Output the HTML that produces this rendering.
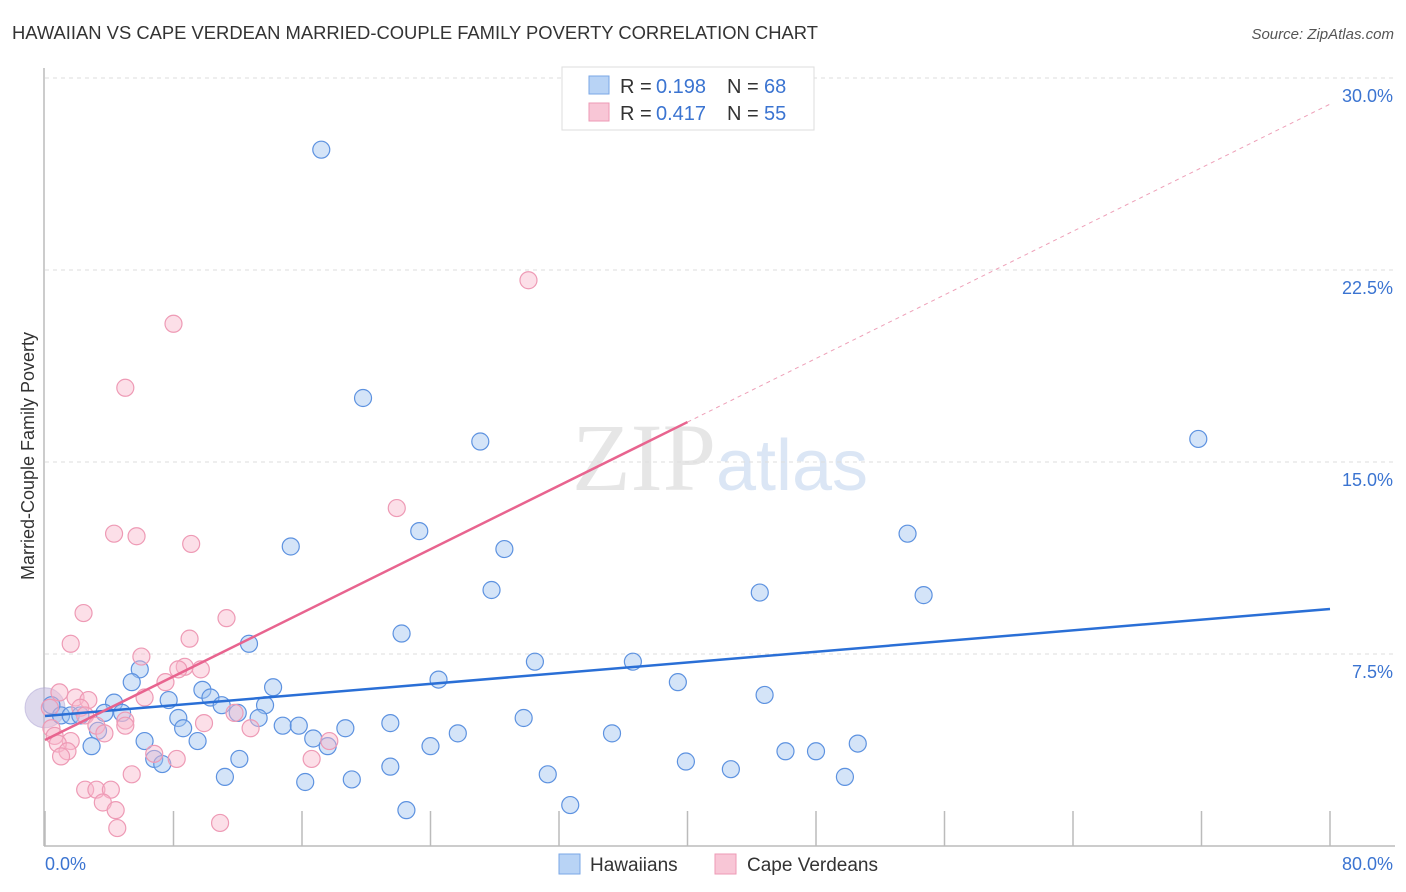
<!DOCTYPE html>
<html><head><meta charset="utf-8"><style>
body{margin:0;background:#fff;font-family:"Liberation Sans",sans-serif;}
svg{display:block}
</style></head><body>
<svg id="c" width="1406" height="892">
<text x="12" y="39" font-size="18.4" fill="#333">HAWAIIAN VS CAPE VERDEAN MARRIED-COUPLE FAMILY POVERTY CORRELATION CHART</text>
<text x="1394" y="39" font-size="15" fill="#555" font-style="italic" text-anchor="end">Source: ZipAtlas.com</text>
<text x="720" y="490" font-size="96" fill="#e6e6e6" text-anchor="middle" font-family="Liberation Serif">ZIP<tspan fill="#dbe6f5" font-family="Liberation Sans" font-size="72">atlas</tspan></text>
<g id="grid"></g><g id="marks"></g>
<text transform="translate(34,456) rotate(-90)" font-size="18" fill="#333" text-anchor="middle">Married-Couple Family Poverty</text>
<g>
<rect x="562" y="67" width="252" height="63" fill="#fff" stroke="#ddd"/>
<rect x="589" y="76" width="20" height="18" fill="#b8d3f5" stroke="#7aa7e6"/>
<rect x="589" y="103" width="20" height="18" fill="#f8c6d6" stroke="#ee9ab5"/>
<text x="620" y="93" font-size="20" fill="#333">R =</text>
<text x="656" y="93" font-size="20" fill="#3b74d1">0.198</text>
<text x="727" y="93" font-size="20" fill="#333">N =</text>
<text x="764" y="93" font-size="20" fill="#3b74d1">68</text>
<text x="620" y="120" font-size="20" fill="#333">R =</text>
<text x="656" y="120" font-size="20" fill="#3b74d1">0.417</text>
<text x="727" y="120" font-size="20" fill="#333">N =</text>
<text x="764" y="120" font-size="20" fill="#3b74d1">55</text>
</g>
<g>
<rect x="559" y="854" width="21" height="20" fill="#b8d3f5" stroke="#7aa7e6"/>
<text x="590" y="871" font-size="19" fill="#333">Hawaiians</text>
<rect x="715" y="854" width="21" height="20" fill="#f8c6d6" stroke="#ee9ab5"/>
<text x="747" y="871" font-size="19" fill="#333">Cape Verdeans</text>
</g>
</svg>
<script>
const yTicks=[7.5,15,22.5,30];
const yTickLabels=["7.5%","15.0%","22.5%","30.0%"];
const blueX=[17.2,19.8,27.1,71.8,53.7,23.3,15.3,28.6,27.8,44.5,54.7,22.2,12.7,30.5,36.6,5.9,5.4,24.5,39.4,14.2,9.8,44.8,4.3,7.7,10.3,11.0,13.7,0.4,3.7,4.8,1.0,1.6,2.2,12.0,8.3,13.3,29.8,21.5,14.8,15.8,8.6,3.3,18.7,35.3,25.7,16.7,9.5,6.2,17.6,50.6,2.9,24.0,46.1,48.0,6.8,12.1,7.3,39.9,21.5,42.7,31.3,11.2,16.2,19.1,49.8,32.7,22.5];
const blueY=[27.2,17.5,15.8,15.9,12.2,12.3,11.7,11.6,10.0,9.9,9.8,8.3,7.9,7.2,7.2,6.9,6.4,6.5,6.4,6.2,6.1,5.9,5.6,5.7,5.8,5.5,5.5,5.5,5.2,5.2,5.1,5.1,5.1,5.2,5.0,5.0,5.0,4.8,4.7,4.7,4.6,4.5,4.6,4.4,4.4,4.2,4.1,4.1,3.9,4.0,3.9,3.9,3.7,3.7,3.4,3.4,3.2,3.3,3.1,3.0,2.8,2.7,2.5,2.6,2.7,1.6,1.4];
const pinkX=[30.1,8.0,5.0,21.9,4.3,5.7,9.1,2.4,11.3,1.6,9.0,6.0,8.7,9.7,8.3,7.5,6.2,0.9,1.9,2.7,2.2,0.3,11.8,2.5,5.0,9.9,3.2,5.0,12.8,0.4,3.7,0.6,1.6,0.8,17.7,1.4,6.8,8.2,16.6,1.0,5.4,2.5,3.2,4.1,3.6,4.4,4.5,10.9];
const pinkY=[22.1,20.4,17.9,13.2,12.2,12.1,11.8,9.1,8.9,7.9,8.1,7.4,7.0,6.9,6.9,6.4,5.8,6.0,5.8,5.7,5.4,5.4,5.2,5.1,4.9,4.8,4.7,4.7,4.6,4.6,4.4,4.3,4.1,4.0,4.1,3.7,3.6,3.4,3.4,3.5,2.8,2.2,2.2,2.2,1.7,1.4,0.7,0.9];
const blueLine=[5.08,9.26];
const pinkLine=[4.14,28.98];
const X=v=>45+v/80*1285, Y=v=>846-v/7.5*192;
const NS="http://www.w3.org/2000/svg";
function mk(tag,a,p){const e=document.createElementNS(NS,tag);for(const k in a)e.setAttribute(k,a[k]);p.appendChild(e);return e;}
const g=document.getElementById('grid'),m=document.getElementById('marks');
yTicks.forEach((t,i)=>{
 const l=mk('line',{x1:45,x2:1395,y1:Y(t),y2:Y(t),stroke:'#ddd','stroke-dasharray':'4,4'},g);
 
 
 const tx=mk('text',{x:1393,y:Y(t)+24,'font-size':18,fill:'#3b74d1','text-anchor':'end'},g);tx.textContent=yTickLabels[i];
 
 
});
const ax=mk('line',{x1:44,x2:44,y1:68,y2:846,stroke:'#bbb','stroke-width':1.5},g);


const bx=mk('line',{x1:44,x2:1395,y1:846,y2:846,stroke:'#bbb','stroke-width':1.5},g);


for(let v=0;v<=80;v+=8){const t=mk('line',{x1:X(v),x2:X(v),y1:811,y2:846,stroke:'#bbb','stroke-width':1.5},g);
 
 }
const x0=mk('text',{x:45,y:870,'font-size':18,fill:'#3b74d1'},g);x0.textContent='0.0%';


const x1=mk('text',{x:1393,y:870,'font-size':18,fill:'#3b74d1','text-anchor':'end'},g);x1.textContent='80.0%';


const big=mk('circle',{cx:X(0),cy:Y(5.4),r:20,fill:'rgba(190,180,220,0.5)',stroke:'rgba(170,160,210,0.5)'},m);


blueX.forEach((x,i)=>{const c=mk('circle',{cx:X(x),cy:Y(blueY[i]),r:8.5,fill:'rgba(160,195,240,0.45)',stroke:'#5d92e0','stroke-width':1.2},m);
 
 });
pinkX.forEach((x,i)=>{const c=mk('circle',{cx:X(x),cy:Y(pinkY[i]),r:8.5,fill:'rgba(248,185,205,0.45)',stroke:'#ee9ab5','stroke-width':1.2},m);
 
 });
const bl=mk('line',{x1:X(0),y1:Y(blueLine[0]),x2:X(80),y2:Y(blueLine[1]),stroke:'#2a6fd6','stroke-width':2.5},m);


const pm=pinkLine[0]+(pinkLine[1]-pinkLine[0])*0.5;
const pl=mk('line',{x1:X(0),y1:Y(pinkLine[0]),x2:X(40),y2:Y(pm),stroke:'#e8648f','stroke-width':2.5},m);


const pd=mk('line',{x1:X(40),y1:Y(pm),x2:X(80),y2:Y(pinkLine[1]),stroke:'#eea0b8','stroke-width':1,'stroke-dasharray':'4,4'},m);


</script>
</body></html>
